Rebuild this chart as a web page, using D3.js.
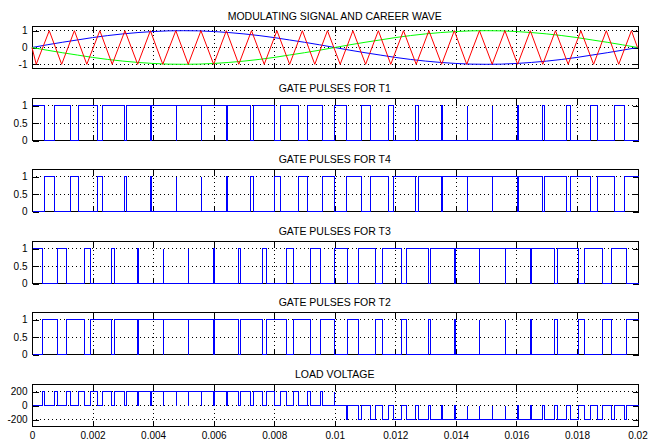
<!DOCTYPE html>
<html><head><meta charset="utf-8">
<script src="https://cdn.jsdelivr.net/npm/d3@7"></script>
<style>
html,body{margin:0;padding:0;background:#fff;}
svg{display:block;}
text{font-family:"Liberation Sans",Arial,Helvetica,sans-serif;fill:#000;}
</style></head><body>
<svg id="c" width="649" height="440"></svg>
<script>
// ---------------- DATA ----------------
// time in milliseconds
const xTickValues = [0, 2, 4, 6, 8, 10, 12, 14, 16, 18, 20];
const xTickLabels = ["0", "0.002", "0.004", "0.006", "0.008", "0.01", "0.012", "0.014", "0.016", "0.018", "0.02"];

const panelTitles = ["MODULATING SIGNAL AND CAREER WAVE", "GATE PULSES FOR T1", "GATE PULSES FOR T4",
                     "GATE PULSES FOR T3", "GATE PULSES FOR T2", "LOAD VOLTAGE"];

// modulating signals sampled every 0.5 ms
const modTimes = [0,0.5,1,1.5,2,2.5,3,3.5,4,4.5,5,5.5,6,6.5,7,7.5,8,8.5,9,9.5,10,
                  10.5,11,11.5,12,12.5,13,13.5,14,14.5,15,15.5,16,16.5,17,17.5,18,18.5,19,19.5,20];
const modBlue = [0,0.16,0.31,0.45,0.59,0.71,0.81,0.89,0.95,0.99,1,0.99,0.95,0.89,0.81,0.71,0.59,0.45,0.31,0.16,0,
                 -0.16,-0.31,-0.45,-0.59,-0.71,-0.81,-0.89,-0.95,-0.99,-1,-0.99,-0.95,-0.89,-0.81,-0.71,-0.59,-0.45,-0.31,-0.16,0];
const modGreen = [0,-0.16,-0.31,-0.45,-0.59,-0.71,-0.81,-0.89,-0.95,-0.99,-1,-0.99,-0.95,-0.89,-0.81,-0.71,-0.59,-0.45,-0.31,-0.16,0,
                  0.16,0.31,0.45,0.59,0.71,0.81,0.89,0.95,0.99,1,0.99,0.95,0.89,0.81,0.71,0.59,0.45,0.31,0.16,0];

// triangular carrier: trough (-1) and peak (+1) times, ms
const carrierTroughs = [0.14,0.98,1.81,2.65,3.49,4.32,5.16,6.00,6.83,7.67,8.51,9.34,
                        10.18,11.02,11.85,12.69,13.53,14.36,15.20,16.04,16.87,17.71,18.55,19.38];
const carrierPeaks   = [0.57,1.40,2.24,3.07,3.91,4.75,5.58,6.42,7.25,8.09,8.93,9.76,
                        10.60,11.44,12.27,13.11,13.95,14.78,15.62,16.46,17.29,18.13,18.97,19.80];

const dcVoltage = 200;

const yTicksMod = [-1, 0, 1];
const yTicksGate = [0, 0.5, 1];
const yTicksLoad = [-200, 0, 200];

// ---------------- BUILD ----------------
const svg = d3.select("#c");
const left = 32, right = 637.5;
const x = d3.scaleLinear().domain([0, 20]).range([left, right]);

const carrierT = [0], carrierV = [0];
carrierTroughs.forEach((t, i) => {
  carrierT.push(t); carrierV.push(-1);
  carrierT.push(carrierPeaks[i]); carrierV.push(1);
});
carrierT.push(20); carrierV.push(0);

const carrierScale = d3.scaleLinear().domain(carrierT).range(carrierV);
const blueScale = d3.scaleLinear().domain(modTimes).range(modBlue);
const greenScale = d3.scaleLinear().domain(modTimes).range(modGreen);

// gate logic (comparison of modulating signal with carrier)
const gateT1 = t => blueScale(t) > carrierScale(t) ? 1 : 0;
const gateT4 = t => 1 - gateT1(t);
const gateT3 = t => greenScale(t) > carrierScale(t) ? 1 : 0;
const gateT2 = t => 1 - gateT3(t);
const loadV = t => dcVoltage * (gateT1(t) - gateT3(t));

function stepSeries(f) {
  const N = 40000, pts = [];
  let prev = null;
  for (let i = 1; i <= N; i++) {
    const t = 20 * i / N;
    const v = f(t);
    if (v !== prev) { pts.push([pts.length ? t : 0, v]); prev = v; }
  }
  pts.push([20, prev]);
  return pts;
}

const top0 = 26, pitch = 71.6, ph = 41.5;
const panels = [
  { dom: [-1.25, 1.25], ticks: yTicksMod, labels: ["-1", "0", "1"] },
  { dom: [0, 1.2], ticks: yTicksGate, labels: ["0", "0.5", "1"], f: gateT1 },
  { dom: [0, 1.2], ticks: yTicksGate, labels: ["0", "0.5", "1"], f: gateT4 },
  { dom: [0, 1.2], ticks: yTicksGate, labels: ["0", "0.5", "1"], f: gateT3 },
  { dom: [0, 1.2], ticks: yTicksGate, labels: ["0", "0.5", "1"], f: gateT2 },
  { dom: [-300, 300], ticks: yTicksLoad, labels: ["-200", "0", "200"], f: loadV }
];

panels.forEach((p, k) => {
  const top = Math.round(top0 + k * pitch) + 0.5;
  const bot = top + Math.round(ph);
  const y = d3.scaleLinear().domain(p.dom).range([bot, top]);
  const g = svg.append("g");

  // grid
  const grid = g.append("g").attr("stroke", "#000").attr("stroke-width", 1)
    .attr("stroke-dasharray", "1,3").attr("shape-rendering", "crispEdges");
  xTickValues.slice(1, -1).forEach(v => {
    grid.append("line").attr("x1", Math.round(x(v)) + 0.5).attr("x2", Math.round(x(v)) + 0.5)
      .attr("y1", top).attr("y2", bot);
  });
  p.ticks.forEach(v => {
    const yy = Math.round(y(v) - 0.5) + 0.5;
    if (Math.abs(yy - bot) < 1 || Math.abs(yy - top) < 1) return;
    grid.append("line").attr("x1", left).attr("x2", right).attr("y1", yy).attr("y2", yy);
  });

  // box
  g.append("rect").attr("x", Math.round(left) + 0.5).attr("y", top)
    .attr("width", Math.round(right) - Math.round(left)).attr("height", bot - top)
    .attr("fill", "none").attr("stroke", "#000").attr("shape-rendering", "crispEdges");

  // axes (ticks inward)
  const ax = (gen, tx, ty) => {
    const a = g.append("g").attr("transform", `translate(${tx},${ty})`).call(gen);
    a.select(".domain").remove();
    a.selectAll("line").attr("stroke", "#000").attr("shape-rendering", "crispEdges");
    a.selectAll("text").attr("font-family", null).attr("font-size", null);
    return a;
  };
  const ylab = ax(d3.axisLeft(y).tickValues(p.ticks).tickFormat((d, i) => p.labels[i])
    .tickSizeInner(-6).tickSizeOuter(0).tickPadding(5), Math.round(left) + 0.5, 0);
  ylab.selectAll("text").style("font-size", "10px");
  ax(d3.axisRight(y).tickValues(p.ticks).tickFormat("").tickSizeInner(-6).tickSizeOuter(0), Math.round(right) + 0.5, 0);
  ax(d3.axisTop(x).tickValues(xTickValues).tickFormat("").tickSizeInner(-6).tickSizeOuter(0), 0, top);
  const xb = ax(d3.axisBottom(x).tickValues(xTickValues)
    .tickFormat((d, i) => k === panels.length - 1 ? xTickLabels[i] : "")
    .tickSizeInner(-6).tickSizeOuter(0).tickPadding(5), 0, bot);
  xb.selectAll("text").style("font-size", "10px");

  // title
  g.append("text").attr("x", (left + right) / 2).attr("y", top - 7)
    .attr("text-anchor", "middle").style("font-size", "10.5px").text(panelTitles[k]);

  // data
  if (k === 0) {
    const line = d3.line().x(d => x(d[0])).y(d => y(d[1]));
    g.append("path").datum(modTimes.map((t, i) => [t, modBlue[i]])).attr("d", line)
      .attr("fill", "none").attr("stroke", "#0000ff").attr("stroke-width", 1);
    g.append("path").datum(modTimes.map((t, i) => [t, modGreen[i]])).attr("d", line)
      .attr("fill", "none").attr("stroke", "#00ff00").attr("stroke-width", 1);
    g.append("path").datum(carrierT.map((t, i) => [t, carrierV[i]])).attr("d", line)
      .attr("fill", "none").attr("stroke", "#ff0000").attr("stroke-width", 1);
  } else {
    const pts = stepSeries(p.f);
    const line = d3.line().x(d => Math.round(x(d[0])) + 0.5).y(d => Math.round(y(d[1]) - 0.5) + 0.5).curve(d3.curveStepAfter);
    g.append("path").datum(pts).attr("d", line).attr("fill", "none")
      .attr("stroke", "#0000ff").attr("stroke-width", 1).attr("shape-rendering", "crispEdges");
  }
});
</script>
</body></html>
